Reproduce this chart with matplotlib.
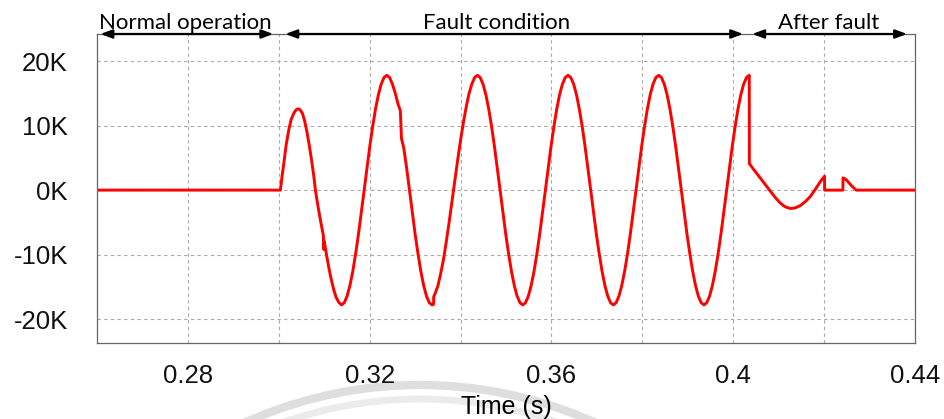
import matplotlib
matplotlib.use("Agg")
import matplotlib.pyplot as plt
from matplotlib import ticker
from matplotlib.patches import Arc

# fault current trace (time in s, current in K)
time_s = [
    0.26, 0.30036,
    # first (short) half-wave after fault inception
    0.30075, 0.30110, 0.30160, 0.30219, 0.30270, 0.30329, 0.30380, 0.30425,
    0.30470, 0.30520, 0.30570, 0.30620, 0.30670, 0.30720, 0.30770, 0.30806,
    0.30860, 0.30916, 0.30960, 0.30980, 0.30992, 0.31000, 0.31050, 0.31098,
    0.31150, 0.31208, 0.31260, 0.31320,
    # steady fault cycles
    0.31380, 0.31442, 0.31505, 0.31567, 0.31629, 0.31692, 0.31754, 0.31816,
    0.31879, 0.31941, 0.32003, 0.32066, 0.32128, 0.32190, 0.32252, 0.32315,
    0.32377, 0.32439, 0.32502, 0.32564, 0.32626, 0.32675, 0.32700, 0.32751,
    0.32813, 0.32876, 0.32938, 0.33000, 0.33063, 0.33125, 0.33187, 0.33249, 0.33312,
    0.33374, 0.33405, 0.33410, 0.33436, 0.33499, 0.33561, 0.33623, 0.33686, 0.33748,
    0.33810, 0.33873, 0.33935, 0.33997, 0.34060, 0.34122, 0.34184, 0.34246, 0.34309,
    0.34371, 0.34433, 0.34496, 0.34558, 0.34620, 0.34683, 0.34745, 0.34807,
    0.34870, 0.34932, 0.34994, 0.35057, 0.35119, 0.35181, 0.35243, 0.35306,
    0.35368, 0.35430, 0.35493, 0.35555, 0.35617, 0.35680, 0.35742, 0.35804,
    0.35867, 0.35929, 0.35991, 0.36054, 0.36116, 0.36178, 0.36240, 0.36303,
    0.36365, 0.36427, 0.36490, 0.36552, 0.36614, 0.36677, 0.36739, 0.36801,
    0.36864, 0.36926, 0.36988, 0.37051, 0.37113, 0.37175, 0.37237, 0.37300,
    0.37362, 0.37424, 0.37487, 0.37549, 0.37611, 0.37674, 0.37736, 0.37798,
    0.37861, 0.37923, 0.37985, 0.38048, 0.38110, 0.38172, 0.38234, 0.38297,
    0.38359, 0.38421, 0.38484, 0.38546, 0.38608, 0.38671, 0.38733, 0.38795,
    0.38858, 0.38920, 0.38982, 0.39045, 0.39107, 0.39169, 0.39231, 0.39294,
    0.39356, 0.39418, 0.39481, 0.39543, 0.39605, 0.39668, 0.39730, 0.39792,
    0.39855, 0.39917, 0.39979, 0.40042, 0.40104, 0.40166, 0.40228, 0.40291,
    0.40353,
    # breaker opens, decaying transient
    0.40355, 0.40450, 0.40560, 0.40680, 0.40800, 0.40920, 0.41035, 0.41145,
    0.41255, 0.41365, 0.41475, 0.41585, 0.41695, 0.41805, 0.41915, 0.42009,
    0.42011, 0.42414, 0.42416, 0.42460, 0.42500, 0.42600, 0.42706, 0.44]

current_k = [
    0.0, 0.0,
    2.3, 4.1, 6.9, 9.3, 10.9, 11.9, 12.45, 12.6,
    12.45, 11.9, 10.7, 9.0, 7.0, 4.7, 2.2, 0.0,
    -2.4, -4.65, -6.3, -7.0, -9.2, -7.9, -10.0, -11.9,
    -13.7, -15.4, -16.6, -17.4,
    -17.8, -17.45, -16.4, -14.75, -12.55, -9.85, -6.8, -3.45,
    0.0, 3.45, 6.8, 9.85, 12.55, 14.75, 16.4, 17.45,
    17.8, 17.45, 16.4, 15.0, 13.3, 12.3, 8.0, 6.5,
    3.45, 0.0, -3.45, -6.8, -9.85, -12.55, -14.75, -16.4, -17.45,
    -17.8, -17.7, -16.5, -16.1, -14.9, -13.0, -10.8, -8.0, -5.0,
    -1.8, 1.4, 4.6, 7.6, 10.4, 12.8, 14.9, 16.4, 17.45,
    17.8, 17.45, 16.4, 14.75, 12.55, 9.85, 6.8, 3.45,
    0.0, -3.45, -6.8, -9.85, -12.55, -14.75, -16.4, -17.45,
    -17.8, -17.45, -16.4, -14.75, -12.55, -9.85, -6.8, -3.45,
    0.0, 3.45, 6.8, 9.85, 12.55, 14.75, 16.4, 17.45,
    17.8, 17.45, 16.4, 14.75, 12.55, 9.85, 6.8, 3.45,
    0.0, -3.45, -6.8, -9.85, -12.55, -14.75, -16.4, -17.45,
    -17.8, -17.45, -16.4, -14.75, -12.55, -9.85, -6.8, -3.45,
    0.0, 3.45, 6.8, 9.85, 12.55, 14.75, 16.4, 17.45,
    17.8, 17.45, 16.4, 14.75, 12.55, 9.85, 6.8, 3.45,
    0.0, -3.45, -6.8, -9.85, -12.55, -14.75, -16.4, -17.45,
    -17.8, -17.45, -16.4, -14.75, -12.55, -9.85, -6.8, -3.45,
    0.0, 3.45, 6.8, 9.85, 12.55, 14.75, 16.4, 17.45,
    17.8,
    4.1, 3.2, 2.2, 1.1, 0.0, -1.1, -2.0, -2.6,
    -2.85, -2.75, -2.4, -1.8, -1.0, 0.1, 1.3, 2.15,
    0.0, 0.0, 1.9, 1.75, 1.5, 0.7, 0.0, 0.0]

x_ticks = [0.28, 0.32, 0.36, 0.40, 0.44]
x_tick_labels = ["0.28", "0.32", "0.36", "0.4", "0.44"]
y_ticks = [-20, -10, 0, 10, 20]
y_tick_labels = ["-20K", "-10K", "0K", "10K", "20K"]

# stage labels across the top: (label, arrow start, arrow end, text centre)
stages = [("Normal operation", 0.26075, 0.29880, 0.27938),
          ("Fault condition", 0.30144, 0.40219, 0.34786),
          ("After fault", 0.40417, 0.43826, 0.42089)]

tick_font = {"family": "Liberation Sans", "size": 18.5, "color": "#111111"}

fig = plt.figure(figsize=(9.44, 4.19), dpi=100)

# faint watermark arcs behind the x label, in pixel units
bg = fig.add_axes([0, 0, 1, 1])
bg.set_xlim(0, 944)
bg.set_ylim(419, 0)
bg.set_axis_off()
bg.add_patch(Arc((420, 812), 2 * 427, 2 * 427, theta1=180, theta2=360,
                 color="#dedede", lw=6))
bg.add_patch(Arc((420, 812), 2 * 413, 2 * 413, theta1=180, theta2=360,
                 color="#ebebeb", lw=5))

ax = fig.add_axes([97 / 944, 1 - 343 / 419, (915 - 97) / 944, (343 - 34) / 419])

ax.plot(time_s, current_k, color="#ff0000", lw=2.1, solid_joinstyle="round")

ax.set_xlim(0.26, 0.44)
ax.set_ylim(-23.7, 24.2)

ax.set_xticks(x_ticks)
ax.set_xticklabels(x_tick_labels, fontdict=tick_font)
ax.xaxis.set_minor_locator(ticker.MultipleLocator(0.02))
ax.set_yticks(y_ticks)
ax.set_yticklabels(y_tick_labels, fontdict=tick_font)
ax.tick_params(axis="both", which="both", length=0)
ax.tick_params(axis="x", pad=15)
ax.tick_params(axis="y", pad=21)

ax.grid(True, which="both", color="#a8a8a8", lw=0.8, ls=(0, (3, 3)))
ax.set_axisbelow(True)

for s in ax.spines.values():
    s.set_color("#666666")
    s.set_linewidth(0.9)

ax.set_xlabel("Time (s)", fontdict={"family": "Liberation Sans", "size": 18}, labelpad=5)

for label, x0, x1, xc in stages:
    ax.annotate("", xy=(x1, 1.0), xytext=(x0, 1.0),
                xycoords=("data", "axes fraction"), textcoords=("data", "axes fraction"),
                arrowprops=dict(arrowstyle="<|-|>,head_length=0.35,head_width=0.13",
                                color="black", lw=1.6, shrinkA=0, shrinkB=0,
                                mutation_scale=20),
                annotation_clip=False)
    ax.annotate(label, xy=(xc, 1.0), xycoords=("data", "axes fraction"),
                xytext=(0, 3.3), textcoords="offset points",
                ha="center", va="baseline", fontsize=16, family="Lato",
                annotation_clip=False)

fig.savefig("out.png", dpi=100)
